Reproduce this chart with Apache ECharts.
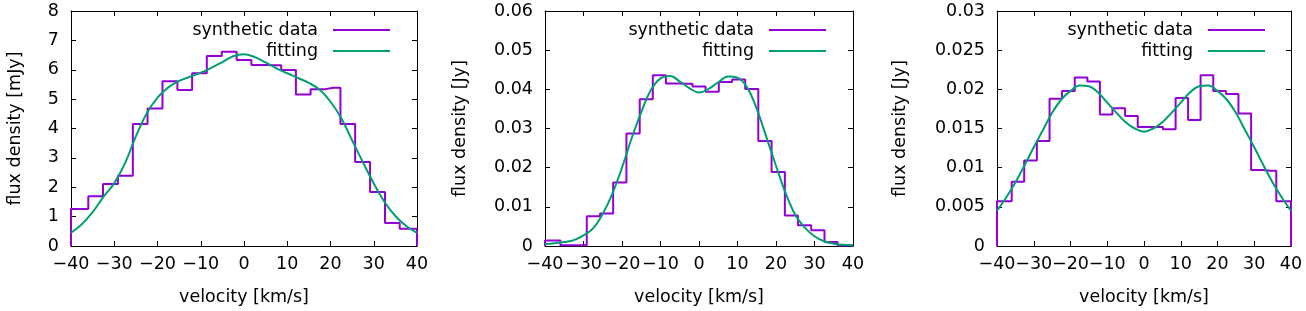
<!DOCTYPE html>
<html>
<head>
<meta charset="utf-8">
<script src="https://cdn.jsdelivr.net/npm/echarts@6/dist/echarts.min.js"></script>
<style>
  html, body { margin: 0; padding: 0; background: #fff; }
  #chart { width: 1306px; height: 311px; }
</style>
</head>
<body>
<div id="chart"></div>
<script>
// velocity channel centres [km/s], shared by the three spectra
const channels = [-37.7, -34.3, -30.9, -27.4, -24.0, -20.6, -17.1, -13.7, -10.3, -6.9, -3.4, 0,
  3.4, 6.9, 10.3, 13.7, 17.1, 20.6, 24.0, 27.4, 30.9, 34.3, 37.7];

// synthetic data per channel
const fluxA = [1.26, 1.69, 2.11, 2.39, 4.15, 4.68, 5.61, 5.31, 5.88, 6.47, 6.61, 6.33,
  6.16, 6.15, 5.99, 5.16, 5.34, 5.39, 4.15, 2.86, 1.84, 0.78, 0.59]; // mJy
const fluxB = [0.0014, 0.0002, 0.0002, 0.0076, 0.0083, 0.0162, 0.0287, 0.0375, 0.0436, 0.0415, 0.0414, 0.0407,
  0.0394, 0.0419, 0.0425, 0.0401, 0.0268, 0.0189, 0.0078, 0.0053, 0.0040, 0.0010, 0.0001]; // Jy
const fluxC = [0.0057, 0.0082, 0.0109, 0.0134, 0.0188, 0.0198, 0.0215, 0.0210, 0.0168, 0.0176, 0.0166, 0.0152,
  0.0152, 0.0149, 0.0189, 0.0161, 0.0218, 0.0198, 0.0194, 0.0169, 0.0097, 0.0096, 0.0057]; // Jy

// fitted profiles
const fitVel = [-40, -37.5, -35, -32.5, -30, -27.5, -25, -22.5, -20, -17.5, -15, -12.5, -10, -7.5, -5, -2.5, 0,
  2.5, 5, 7.5, 10, 12.5, 15, 17.5, 20, 22.5, 25, 27.5, 30, 32.5, 35, 37.5, 40];
const fitA = [0.45, 0.74, 1.15, 1.67, 2.14, 2.82, 3.73, 4.51, 5.05, 5.40, 5.62, 5.76, 5.90, 6.07, 6.26, 6.46, 6.53,
  6.43, 6.25, 6.05, 5.88, 5.72, 5.55, 5.32, 4.91, 4.35, 3.60, 2.85, 2.13, 1.50, 1.02, 0.68, 0.45];
const fitB = [0.0005, 0.0007, 0.0010, 0.0015, 0.0027, 0.0045, 0.0082, 0.0134, 0.0200, 0.0275, 0.0342, 0.0398, 0.0428,
  0.0434, 0.0420, 0.0403, 0.0392, 0.0401, 0.0418, 0.0433, 0.0430, 0.0405, 0.0350, 0.0278, 0.0205, 0.0135, 0.0080,
  0.0047, 0.0025, 0.0012, 0.0006, 0.0003, 0.0002];
const fitC = [0.0045, 0.0062, 0.0081, 0.0103, 0.0126, 0.0148, 0.0170, 0.0187, 0.0198, 0.0205, 0.0204, 0.0196, 0.0183,
  0.0170, 0.0158, 0.0150, 0.0146, 0.0150, 0.0158, 0.0170, 0.0183, 0.0196, 0.0204, 0.0205, 0.0198, 0.0187, 0.0170,
  0.0148, 0.0126, 0.0103, 0.0081, 0.0062, 0.0045];

const yTitles = ['flux density [mJy]', 'flux density [Jy]', 'flux density [Jy]'];
const xTitle = 'velocity [km/s]';
const legendNames = ['synthetic data', 'fitting'];

const FONT = 'DejaVu Sans, Liberation Sans, Arial, sans-serif';
const FS = 17.5;
const PURPLE = '#9400d3';
const GREEN = '#009e73';

// layout of the three panels
const panels = [
  { flux: fluxA, fit: fitA, yMax: 8, yStep: 1, grid: { left: 71, right: 889 }, nameGap: 47, legendRight: 916 },
  { flux: fluxB, fit: fitB, yMax: 0.06, yStep: 0.01, grid: { left: 545, right: 453 }, nameGap: 76, legendRight: 480 },
  { flux: fluxC, fit: fitC, yMax: 0.03, yStep: 0.005, grid: { left: 997, right: 15 }, nameGap: 88, legendRight: 41 }
];

function stepData(vals) {
  const d = [[-40, 0], [-40, vals[0]]];
  channels.forEach((c, i) => d.push([c, vals[i]]));
  d.push([40, vals[vals.length - 1]], [40, 0]);
  return d;
}

const minus = v => String(v).replace('-', '\u2212');
const axisLine = { show: true, onZero: false, lineStyle: { color: '#000', width: 1 } };
const tick = { show: true, inside: true, length: 5, lineStyle: { color: '#000' } };
const txt = { color: '#000', fontSize: FS, fontFamily: FONT };

const grid = [], xAxis = [], yAxis = [], series = [], legend = [];

panels.forEach((p, i) => {
  grid.push({ left: p.grid.left, right: p.grid.right, top: 11, bottom: 65 });
  xAxis.push({
    type: 'value', gridIndex: i, min: -40, max: 40, interval: 10,
    axisLine, axisTick: tick, splitLine: { show: false },
    axisLabel: { ...txt, formatter: minus, margin: 9 },
    name: xTitle, nameLocation: 'middle', nameGap: 42, nameTextStyle: txt
  });
  xAxis.push({
    type: 'value', gridIndex: i, position: 'top', min: -40, max: 40, interval: 10,
    axisLine, axisTick: tick, splitLine: { show: false }, axisLabel: { show: false }
  });
  yAxis.push({
    type: 'value', gridIndex: i, min: 0, max: p.yMax, interval: p.yStep,
    axisLine, axisTick: tick, splitLine: { show: false },
    axisLabel: { ...txt, formatter: v => String(+v.toFixed(4)), margin: 12 },
    name: yTitles[i], nameLocation: 'middle', nameGap: p.nameGap, nameTextStyle: txt
  });
  yAxis.push({
    type: 'value', gridIndex: i, position: 'right', min: 0, max: p.yMax, interval: p.yStep,
    axisLine, axisTick: tick, splitLine: { show: false }, axisLabel: { show: false }
  });

  series.push({
    name: legendNames[0], type: 'line', xAxisIndex: 2 * i, yAxisIndex: 2 * i,
    step: 'middle', showSymbol: false, data: stepData(p.flux),
    lineStyle: { color: PURPLE, width: 2 }, itemStyle: { color: PURPLE }
  });
  series.push({
    name: legendNames[1], type: 'line', xAxisIndex: 2 * i, yAxisIndex: 2 * i,
    smooth: 0.4, showSymbol: false, data: fitVel.map((v, k) => [v, p.fit[k]]),
    lineStyle: { color: GREEN, width: 2 }, itemStyle: { color: GREEN }
  });

  legendNames.forEach((n, k) => {
    legend.push({
      data: [n], top: 20 + k * 21, right: p.legendRight, align: 'right',
      icon: 'rect', itemWidth: 57, itemHeight: 2, padding: 0, selectedMode: false,
      itemStyle: { borderWidth: 0 },
      textStyle: { ...txt, lineHeight: 20, padding: [0, 10, 0, 0] }
    });
  });
});

const chart = echarts.init(document.getElementById('chart'));
chart.setOption({ animation: false, grid, xAxis, yAxis, series, legend });
</script>
</body>
</html>
